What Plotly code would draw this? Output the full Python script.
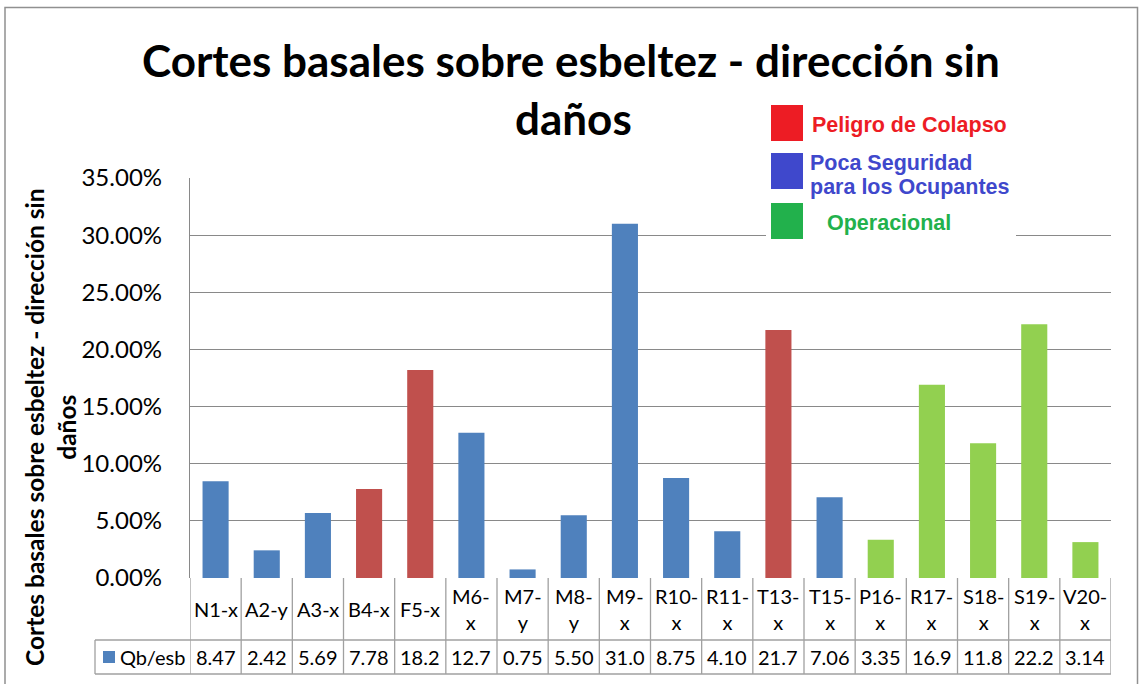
import plotly.graph_objects as go

# ---- data -------------------------------------------------------------
categories = ["N1-x", "A2-y", "A3-x", "B4-x", "F5-x", "M6-x", "M7-y", "M8-y", "M9-x",
              "R10-x", "R11-x", "T13-x", "T15-x", "P16-x", "R17-x", "S18-x", "S19-x", "V20-x"]
tick_labels = ["N1-x", "A2-y", "A3-x", "B4-x", "F5-x", "M6-<br>x", "M7-<br>y", "M8-<br>y",
               "M9-<br>x", "R10-<br>x", "R11-<br>x", "T13-<br>x", "T15-<br>x", "P16-<br>x",
               "R17-<br>x", "S18-<br>x", "S19-<br>x", "V20-<br>x"]
qb_esb = [8.47, 2.42, 5.69, 7.78, 18.2, 12.7, 0.75, 5.50, 31.0,
          8.75, 4.10, 21.7, 7.06, 3.35, 16.9, 11.8, 22.2, 3.14]
state = ["poca", "poca", "poca", "colapso", "colapso", "poca", "poca", "poca", "poca",
         "poca", "poca", "colapso", "poca", "oper", "oper", "oper", "oper", "oper"]
series_name = "Qb/esb"
title_lines = ["Cortes basales sobre esbeltez - dirección sin", "daños"]

bar_colors = {"colapso": "#C0504D", "poca": "#4F81BD", "oper": "#92D050"}
key_items = [("Peligro de Colapso", "#ED1C24"),
             ("Poca Seguridad|para los Ocupantes", "#3F48CC"),
             ("Operacional", "#22B14C")]

# ---- geometry (pixels) ------------------------------------------------
W, H = 1139, 684
PL, PR, PT, PB = 190, 1111, 178, 578
PW, PH = PR - PL, PB - PT


def px_x(p):
    return (p - PL) / PW


def px_y(p):
    return (PB - p) / PH


GRID = "#898989"
LINE = "#A0A0A0"
FONT = "Lato"

fig = go.Figure()
fig.add_trace(go.Bar(
    x=categories,
    y=[v / 100 for v in qb_esb],
    marker=dict(color=[bar_colors[s] for s in state], line=dict(width=0)),
    width=0.51,
    name=series_name,
    showlegend=False,
))

shapes = []
annotations = []

# data table under the bars
n = len(categories)
row1_bot, row2_bot = 640, 674
for i in range(n + 1):
    shapes.append(dict(type="line", xref="x", yref="paper", x0=i - 0.5, x1=i - 0.5,
                       y0=0, y1=px_y(row2_bot), line=dict(color=LINE, width=1.3)))
for yy in (row1_bot, row2_bot):
    shapes.append(dict(type="line", xref="paper", yref="paper", x0=px_x(95), x1=1,
                       y0=px_y(yy), y1=px_y(yy), line=dict(color=LINE, width=1.3)))
shapes.append(dict(type="line", xref="paper", yref="paper", x0=px_x(95), x1=px_x(95),
                   y0=px_y(row1_bot), y1=px_y(row2_bot), line=dict(color=LINE, width=1.3)))
# series key in the table
shapes.append(dict(type="rect", xref="paper", yref="paper", x0=px_x(103), x1=px_x(115),
                   y0=px_y(663), y1=px_y(651), fillcolor=bar_colors["poca"], line=dict(width=0)))
annotations.append(dict(x=px_x(118), y=px_y(657), xref="paper", yref="paper", text=series_name,
                        showarrow=False, xanchor="left", yanchor="middle",
                        font=dict(family=FONT, size=20, color="#000")))


def fmt(v):
    return f"{v:.1f}" if v >= 10 else f"{v:.2f}"


for cat, lab, v in zip(categories, tick_labels, qb_esb):
    annotations.append(dict(x=cat, y=px_y(609), xref="x", yref="paper", text=lab,
                            showarrow=False, xanchor="center", yanchor="middle",
                            font=dict(family=FONT, size=20, color="#000")))
    annotations.append(dict(x=cat, y=px_y(657), xref="x", yref="paper", text=fmt(v),
                            showarrow=False, xanchor="center", yanchor="middle",
                            font=dict(family=FONT, size=20, color="#000")))

# status key panel
shapes.append(dict(type="rect", xref="paper", yref="paper", x0=px_x(766), x1=px_x(1016),
                   y0=px_y(241), y1=px_y(100), fillcolor="white", line=dict(width=0),
                   layer="above"))
key_tops = [105, 153, 203]
text_pos = [(810, [125]), (808, [163, 187]), (825, [223])]
for (label, col), top, (tx, ys) in zip(key_items, key_tops, text_pos):
    shapes.append(dict(type="rect", xref="paper", yref="paper", x0=px_x(771), x1=px_x(803),
                       y0=px_y(top + 36), y1=px_y(top), fillcolor=col, line=dict(width=0),
                       layer="above"))
    for part, yy in zip(label.split("|"), ys):
        annotations.append(dict(x=px_x(tx), y=px_y(yy), xref="paper", yref="paper", text=f"<b>{part}</b>",
                                showarrow=False, xanchor="left", yanchor="middle",
                                font=dict(family="Liberation Sans, Arial", size=21.5, color=col)))

# title
annotations.append(dict(x=px_x(571), y=px_y(60), xref="paper", yref="paper",
                        text=f"<b>{title_lines[0]}</b>", showarrow=False,
                        xanchor="center", yanchor="middle",
                        font=dict(family=FONT, size=44, color="#000")))
annotations.append(dict(x=px_x(573), y=px_y(118), xref="paper", yref="paper",
                        text=f"<b>{title_lines[1]}</b>", showarrow=False,
                        xanchor="center", yanchor="middle",
                        font=dict(family=FONT, size=44, color="#000")))
# y axis title
annotations.append(dict(x=px_x(50), y=px_y(427), xref="paper", yref="paper",
                        text=f"<b>{title_lines[0]}</b><br><b>{title_lines[1]}</b>",
                        showarrow=False, textangle=-90, xanchor="center", yanchor="middle",
                        font=dict(family=FONT, size=24.5, color="#000")))

# outer chart border
shapes.append(dict(type="rect", xref="paper", yref="paper", x0=px_x(5), x1=px_x(1137.5),
                   y0=px_y(700), y1=px_y(7.5), line=dict(color="#909090", width=1.5),
                   fillcolor="rgba(0,0,0,0)", layer="below"))

fig.update_layout(
    width=W, height=H, autosize=False,
    margin=dict(l=PL, r=W - PR, t=PT, b=H - PB),
    paper_bgcolor="white", plot_bgcolor="white",
    shapes=shapes, annotations=annotations,
    xaxis=dict(showticklabels=False, showgrid=False, zeroline=False, showline=False,
               ticks="", range=[-0.5, n - 0.5], fixedrange=True),
    yaxis=dict(range=[0, 0.35], dtick=0.05, tick0=0, tickformat=".2%",
               showgrid=True, gridcolor=GRID, gridwidth=1.3, zeroline=False,
               showline=True, linecolor=GRID, linewidth=1.3,
               ticks="", ticklabelstandoff=22,
               tickfont=dict(family=FONT, size=24, color="#000")),
    bargap=0.49,
    showlegend=False,
)

fig.write_html("out.html")
